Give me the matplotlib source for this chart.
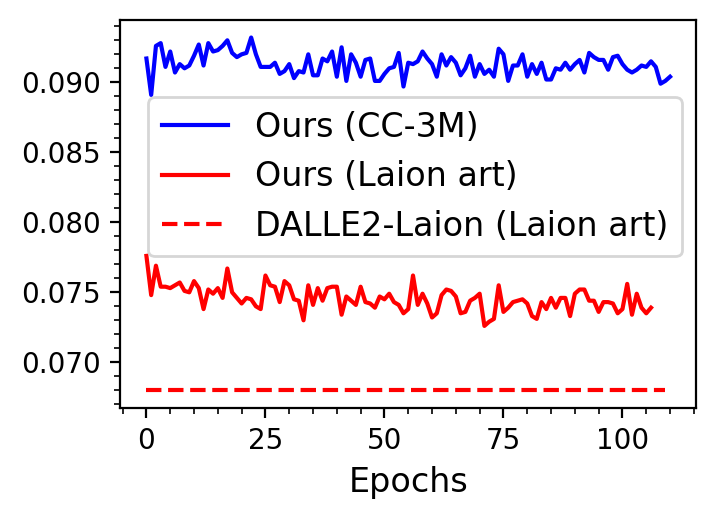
import numpy as np
import matplotlib
matplotlib.use("Agg")
import matplotlib.pyplot as plt
import matplotlib.ticker as ticker

# Values
ours_cc3m = [
    0.0917, 0.0891, 0.0926, 0.0928, 0.0911, 0.0922, 0.0907, 0.0913, 0.0910, 0.0912,
    0.0919, 0.0927, 0.0912, 0.0928, 0.0922, 0.0923, 0.0926, 0.0930, 0.0921, 0.0918,
    0.0920, 0.0921, 0.0932, 0.0920, 0.0911, 0.0911, 0.0911, 0.0914, 0.0906, 0.0908,
    0.0913, 0.0903, 0.0908, 0.0907, 0.0920, 0.0905, 0.0905, 0.0917, 0.0915, 0.0922,
    0.0904, 0.0925, 0.0901, 0.0920, 0.0914, 0.0904, 0.0916, 0.0917, 0.0901, 0.0901,
    0.0906, 0.0910, 0.0911, 0.0921, 0.0897, 0.0914, 0.0913, 0.0915, 0.0922, 0.0917,
    0.0913, 0.0904, 0.0920, 0.0912, 0.0918, 0.0914, 0.0905, 0.0910, 0.0919, 0.0904,
    0.0913, 0.0906, 0.0909, 0.0904, 0.0924, 0.0920, 0.0901, 0.0912, 0.0912, 0.0920,
    0.0904, 0.0913, 0.0906, 0.0914, 0.0902, 0.0902, 0.0910, 0.0909, 0.0914, 0.0909,
    0.0913, 0.0916, 0.0907, 0.0921, 0.0918, 0.0916, 0.0916, 0.0909, 0.0918, 0.0919,
    0.0913, 0.0909, 0.0907, 0.0909, 0.0912, 0.0911, 0.0915, 0.0911, 0.0899, 0.0901,
    0.0904,
]

ours_laion = [
    0.0776, 0.0748, 0.0769, 0.0754, 0.0754, 0.0753, 0.0755, 0.0757, 0.0751, 0.0750,
    0.0758, 0.0753, 0.0738, 0.0752, 0.0749, 0.0753, 0.0746, 0.0767, 0.0750, 0.0746,
    0.0742, 0.0746, 0.0745, 0.0740, 0.0738, 0.0762, 0.0755, 0.0754, 0.0743, 0.0758,
    0.0755, 0.0745, 0.0744, 0.0730, 0.0755, 0.0741, 0.0753, 0.0744, 0.0753, 0.0754,
    0.0754, 0.0734, 0.0747, 0.0744, 0.0741, 0.0754, 0.0743, 0.0742, 0.0739, 0.0747,
    0.0745, 0.0749, 0.0743, 0.0741, 0.0735, 0.0738, 0.0762, 0.0741, 0.0749, 0.0742,
    0.0732, 0.0735, 0.0748, 0.0752, 0.0751, 0.0747, 0.0735, 0.0736, 0.0744, 0.0746,
    0.0749, 0.0726, 0.0729, 0.0731, 0.0755, 0.0736, 0.0739, 0.0743, 0.0744, 0.0745,
    0.0742, 0.0733, 0.0731, 0.0743, 0.0738, 0.0746, 0.0739, 0.0746, 0.0746, 0.0733,
    0.0749, 0.0752, 0.0752, 0.0744, 0.0744, 0.0736, 0.0743, 0.0743, 0.0742, 0.0735,
    0.0738, 0.0756, 0.0734, 0.0749, 0.0739, 0.0735, 0.0739,
]

dalle2_value = 0.068
dalle2_epochs = 110

labels = ["Ours (CC-3M)", "Ours (Laion art)", "DALLE2-Laion (Laion art)"]

fig, ax = plt.subplots(figsize=(3.6, 2.615), dpi=200)
fig.subplots_adjust(left=0.167, right=0.967, top=0.962, bottom=0.22)

ax.plot(np.arange(len(ours_cc3m)), ours_cc3m, color="b", lw=1.5, label=labels[0])
ax.plot(np.arange(len(ours_laion)), ours_laion, color="r", lw=1.5, label=labels[1])
ax.plot(np.arange(dalle2_epochs), [dalle2_value] * dalle2_epochs, color="r", ls="--",
        lw=1.5, label=labels[2])

ax.xaxis.set_major_locator(ticker.MultipleLocator(25))
ax.minorticks_on()
ax.tick_params(labelsize=10)
ax.set_xlabel("Epochs", fontsize=12)

ax.legend(fontsize=12, loc="upper left", bbox_to_anchor=(0.049, 0.80), borderaxespad=0)

fig.savefig("out.png", dpi=200)
